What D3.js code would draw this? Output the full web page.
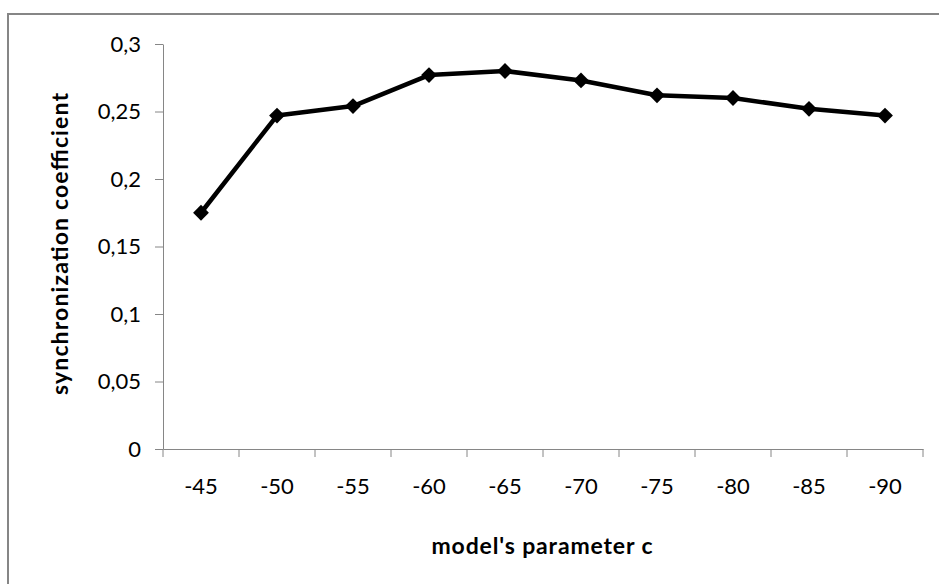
<!DOCTYPE html>
<html>
<head>
<meta charset="utf-8">
<script src="https://cdn.jsdelivr.net/npm/d3@7"></script>
<style>
  body { margin: 0; background: #fff; }
  svg text { font-family: Lato, "Open Sans", sans-serif; fill: #000; }
</style>
</head>
<body>
<div id="chart"></div>
<script>
var w = 939, h = 584;

// data
var categories = ["-45", "-50", "-55", "-60", "-65", "-70", "-75", "-80", "-85", "-90"];
var values = [0.175, 0.247, 0.254, 0.277, 0.280, 0.273, 0.262, 0.260, 0.252, 0.247];
var yTicks = [0, 0.05, 0.1, 0.15, 0.2, 0.25, 0.3];
var xTitle = "model's parameter c";
var yTitle = "synchronization coefficient";

var plotLeft = 163, plotRight = 923, plotTop = 44, plotBottom = 449;

var svg = d3.select("#chart").append("svg")
  .attr("width", w)
  .attr("height", h);

// outer chart border (runs off right / bottom edges)
svg.append("rect")
  .attr("x", 8)
  .attr("y", 14)
  .attr("width", w)
  .attr("height", h)
  .attr("fill", "none")
  .attr("stroke", "#868686")
  .attr("stroke-width", 2);

var xScale = d3.scaleBand()
  .domain(categories)
  .range([plotLeft, plotRight]);

var yScale = d3.scaleLinear()
  .domain([0, 0.3])
  .range([plotBottom, plotTop]);

var fmt = function(d) { return String(d).replace(".", ","); };

// y axis
var yAxis = d3.axisLeft(yScale)
  .tickValues(yTicks)
  .tickFormat(fmt)
  .tickSizeInner(8)
  .tickSizeOuter(0)
  .tickPadding(14);

var gy = svg.append("g")
  .attr("transform", "translate(" + plotLeft + ",0)")
  .call(yAxis);

// x axis, ticks at band edges
var xEdges = d3.range(categories.length + 1).map(function(i) {
  return plotLeft + i * xScale.bandwidth();
});

var gx = svg.append("g")
  .attr("transform", "translate(0," + plotBottom + ")")
  .call(d3.axisBottom(xScale).tickSize(0).tickPadding(29));

gx.selectAll(".xedge")
  .data(xEdges)
  .enter()
  .append("line")
  .attr("class", "xedge")
  .attr("x1", function(d) { return d; })
  .attr("x2", function(d) { return d; })
  .attr("y1", 0)
  .attr("y2", 8)
  .attr("stroke", "#868686");

[gx, gy].forEach(function(g) {
  g.select(".domain").attr("stroke", "#868686");
  g.selectAll(".tick line").attr("stroke", "#868686");
  g.selectAll(".tick text")
    .attr("font-size", "22px")
    .attr("font-family", "Lato, 'Open Sans', sans-serif")
    .attr("fill", "#000");
});

// line
var line = d3.line()
  .x(function(d, i) { return xScale(categories[i]) + xScale.bandwidth() / 2; })
  .y(function(d) { return yScale(d); });

svg.append("path")
  .datum(values)
  .attr("d", line)
  .attr("fill", "none")
  .attr("stroke", "#000")
  .attr("stroke-width", 4.5)
  .attr("stroke-linejoin", "round");

// diamond markers
var diamond = d3.symbol().type(d3.symbolSquare).size(125);

svg.selectAll(".marker")
  .data(values)
  .enter()
  .append("path")
  .attr("class", "marker")
  .attr("d", diamond)
  .attr("transform", function(d, i) {
    return "translate(" + (xScale(categories[i]) + xScale.bandwidth() / 2) + "," + yScale(d) + ") rotate(45)";
  })
  .attr("fill", "#000");

// axis titles
svg.append("text")
  .text(xTitle)
  .attr("x", 542)
  .attr("y", 554)
  .attr("text-anchor", "middle")
  .attr("font-size", "23px")
  .attr("font-weight", "bold")
  .attr("textLength", 221)
  .attr("lengthAdjust", "spacing");

svg.append("text")
  .text(yTitle)
  .attr("transform", "translate(68,244) rotate(-90)")
  .attr("text-anchor", "middle")
  .attr("font-size", "23px")
  .attr("font-weight", "bold")
  .attr("textLength", 302)
  .attr("lengthAdjust", "spacing");
</script>
</body>
</html>
